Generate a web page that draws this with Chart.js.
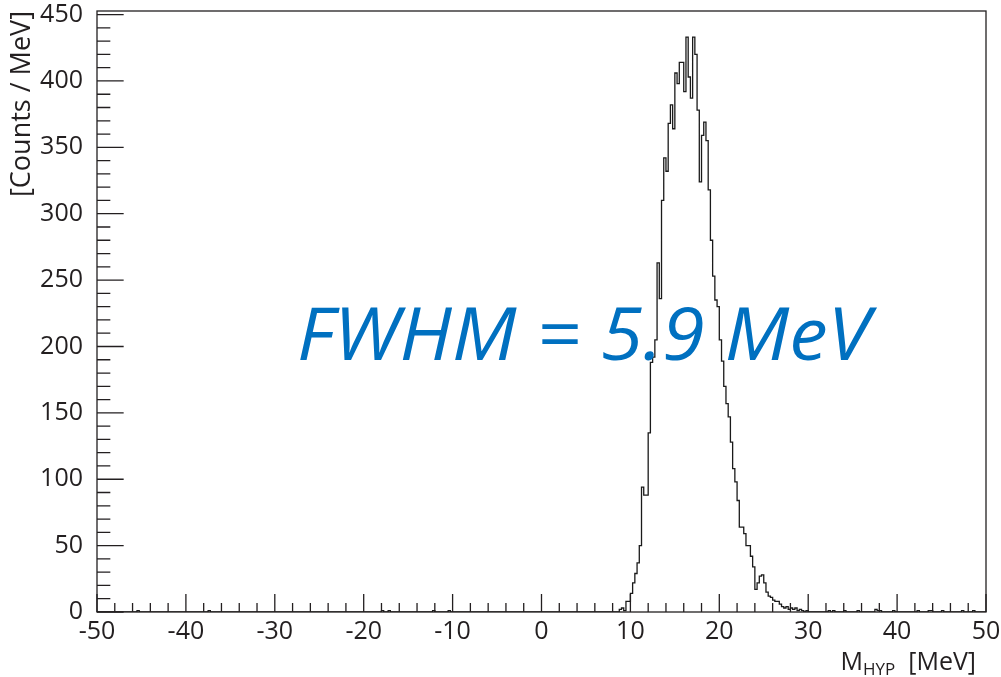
<!DOCTYPE html>
<html>
<head>
<meta charset="utf-8">
<script src="https://cdn.jsdelivr.net/npm/chart.js@4"></script>
<style>
  body { margin: 0; background: #fff; }
  #wrap { width: 1001px; height: 677px; }
</style>
</head>
<body>
<div id="wrap"><canvas id="histChart" width="1001" height="677"></canvas></div>
<script>
// histogram: 0.25 MeV bins from -50 to 50
const binWidth = 0.25;
const xMin = -50, xMax = 50;
const yMax = 452.7;

// counts for the peak region, first bin starts at 8.5 MeV
const peakStart = 8.5;
const peakCounts = [
  0, 2, 3, 1, 8, 8, 14, 22, 29, 37,          // 8.5 .. 10.75
  50, 94, 88, 88, 135, 188, 192, 205, 263, 236, // 11.0 .. 13.25
  310, 342, 332, 368, 382, 364, 406, 398, 414, 414, // 13.5 .. 15.75
  392, 433, 403, 387, 433, 420, 378, 324, 359, 369, // 16.0 .. 18.25
  355, 318, 280, 253, 235, 230, 205, 189, 170, 157, // 18.5 .. 20.75
  147, 128, 108, 98, 84, 64, 64, 59, 50, 50,   // 21.0 .. 23.25
  42, 34, 17, 22, 27, 28, 22, 15, 12, 11,      // 23.5 .. 25.75
  9, 8, 8, 6, 4, 3, 4, 2, 3, 2,                // 26.0 .. 28.25
  3, 1, 2, 1, 0, 1, 0                          // 28.5 .. 30.0
];

// isolated single counts away from the peak
const noiseMeV    = [-45.5, -37.5, -18, -17.25, -12.25, -10.5, 32.25, 32.75, 34, 35.5, 37.5, 37.75, 38, 39.5, 42.25, 43.5, 43.75, 45, 47.25, 48.5];
const noiseCounts = [1, 1, 1, 1, 1, 1, 1, 1, 1, 1, 2, 1, 1, 1, 1, 1, 1, 1, 1, 1];

// axis ticks
const xMajor = [-50, -40, -30, -20, -10, 0, 10, 20, 30, 40, 50];
const yMajor = [0, 50, 100, 150, 200, 250, 300, 350, 400, 450];
const minorDiv = 5;

const nBins = Math.round((xMax - xMin) / binWidth);
const counts = new Array(nBins).fill(0);
peakCounts.forEach((c, i) => {
  counts[Math.round((peakStart - xMin) / binWidth) + i] = c;
});
noiseMeV.forEach((m, i) => {
  counts[Math.round((m - xMin) / binWidth)] = noiseCounts[i];
});
const histPoints = counts.map((c, i) => ({ x: xMin + i * binWidth, y: c }));
histPoints.push({ x: xMax, y: 0 });

const ink = '#231f20';
const labelFont = { family: 'Open Sans', size: 25 };

const rootFrame = {
  id: 'rootFrame',
  afterDatasetsDraw(chart) {
    const ctx = chart.ctx;
    const a = chart.chartArea;
    const xs = chart.scales.x, ys = chart.scales.y;
    ctx.save();
    ctx.strokeStyle = ink;
    ctx.lineWidth = 1.3;
    ctx.strokeRect(a.left, a.top, a.right - a.left, a.bottom - a.top);

    // x ticks, inside the frame
    const xLen = 0.03 * (a.bottom - a.top);
    ctx.beginPath();
    for (let k = 0; k < xMajor.length; k++) {
      const v = xMajor[k];
      let px = xs.getPixelForValue(v);
      ctx.moveTo(px, a.bottom); ctx.lineTo(px, a.bottom - xLen);
      if (k < xMajor.length - 1) {
        const step = (xMajor[k + 1] - v) / minorDiv;
        for (let j = 1; j < minorDiv; j++) {
          px = xs.getPixelForValue(v + j * step);
          ctx.moveTo(px, a.bottom); ctx.lineTo(px, a.bottom - xLen / 2);
        }
      }
    }
    // y ticks
    const yLen = 0.03 * (a.right - a.left);
    for (let k = 0; k < yMajor.length; k++) {
      const v = yMajor[k];
      let py = ys.getPixelForValue(v);
      ctx.moveTo(a.left, py); ctx.lineTo(a.left + yLen, py);
      const step = (yMajor[1] - yMajor[0]) / minorDiv;
      for (let j = 1; j < minorDiv; j++) {
        if (v + j * step > yMax) break;
        py = ys.getPixelForValue(v + j * step);
        ctx.moveTo(a.left, py); ctx.lineTo(a.left + yLen / 2, py);
      }
    }
    ctx.stroke();

    // x axis title with subscript, right aligned
    ctx.fillStyle = ink;
    ctx.textBaseline = 'alphabetic';
    ctx.textAlign = 'left';
    const big = "25px 'Open Sans'", small = "17px 'Open Sans'";
    ctx.font = big;
    const wM = ctx.measureText('M').width;
    const wUnit = ctx.measureText('  [MeV]').width;
    ctx.font = small;
    const wSub = ctx.measureText('HYP').width;
    let x0 = a.right - 10 - (wM + wSub + wUnit);
    const base = 670;
    ctx.font = big;
    ctx.fillText('M', x0, base);
    ctx.font = small;
    ctx.fillText('HYP', x0 + wM, base + 5);
    ctx.font = big;
    ctx.fillText('  [MeV]', x0 + wM + wSub, base);

    // annotation, stretched to the reference width
    const note = 'FWHM = 5.9 MeV';
    ctx.fillStyle = '#0070c0';
    ctx.font = "italic 74px 'Open Sans'";
    const w = ctx.measureText(note).width;
    ctx.translate(297, 360);
    ctx.scale(573 / w, 1);
    ctx.fillText(note, 0, 0);
    ctx.restore();
  }
};

new Chart(document.getElementById('histChart'), {
  type: 'line',
  data: {
    datasets: [{
      data: histPoints,
      stepped: 'before',
      borderColor: '#1a1a1a',
      borderWidth: 1.3,
      pointRadius: 0,
      fill: false
    }]
  },
  options: {
    responsive: false,
    animation: false,
    layout: { padding: { top: 11, right: 15, left: 0, bottom: 0 } },
    plugins: { legend: { display: false }, tooltip: { enabled: false } },
    scales: {
      x: {
        type: 'linear',
        min: xMin, max: xMax,
        ticks: { stepSize: 10, includeBounds: false, maxRotation: 0, padding: 5, color: ink, font: labelFont },
        grid: { display: false, drawTicks: false },
        border: { display: false },
        afterFit: s => { s.height = 65; s.paddingLeft = 0; s.paddingRight = 0; }
      },
      y: {
        min: 0, max: yMax,
        ticks: { stepSize: 50, includeBounds: false, padding: 14, color: ink, font: labelFont },
        grid: { display: false, drawTicks: false },
        border: { display: false },
        title: { display: true, text: '[Counts / MeV]', align: 'end', color: ink, font: { family: 'Open Sans', size: 27 }, padding: { top: 6, bottom: 0 } },
        afterFit: s => { s.width = 97; s.paddingTop = 0; s.paddingBottom = 0; }
      }
    }
  },
  plugins: [rootFrame]
});
</script>
</body>
</html>
